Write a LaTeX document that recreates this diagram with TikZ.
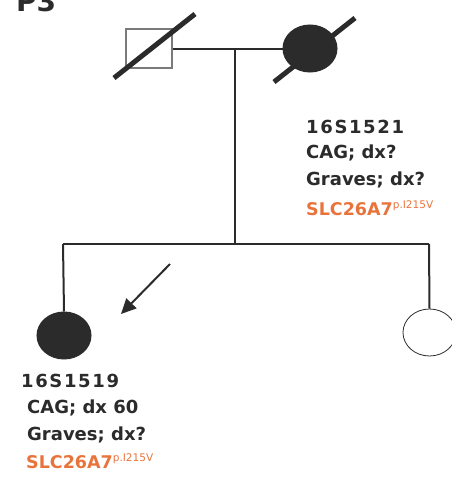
\documentclass[tikz,border=0pt]{standalone}
\usepackage{fontspec}
\setmainfont{DejaVu Sans}
\usetikzlibrary{shapes.geometric,arrows.meta}
\definecolor{ink}{HTML}{2B2B2B}
\definecolor{boxgray}{HTML}{7A7A7A}
\definecolor{gene}{HTML}{E8743B}
\tikzset{
  line/.style={draw=ink, line width=2pt},
  slash/.style={draw=ink, line width=5pt},
  malebox/.style={rectangle, draw=boxgray, line width=1.4pt, minimum width=46pt, minimum height=39pt, inner sep=0pt},
  affected/.style={ellipse, fill=ink, draw=ink, line width=1pt, minimum width=54pt, minimum height=47pt, inner sep=0pt},
  unaffected/.style={ellipse, draw=ink, line width=0.8pt, fill=white, minimum width=53pt, minimum height=47pt, inner sep=0pt},
  info/.style={anchor=base west, inner sep=0pt, text=ink, font=\fontsize{18}{20}\selectfont\bfseries},
  idtext/.style={info, font=\fontsize{18}{20}\selectfont\bfseries\addfontfeature{LetterSpace=9}},
  genetext/.style={anchor=base west, inner sep=0pt, text=gene, font=\fontsize{17.5}{20}\selectfont\bfseries},
}
\begin{document}
\begin{tikzpicture}[x=1pt,y=-1pt]
\useasboundingbox (0,0) rectangle (452,479);
% title (cut off at top, as in the reference)
\node[anchor=base west, inner sep=0pt, text=ink, font=\fontsize{28}{30}\selectfont\bfseries] (title) at (16,11) {P3};
% parents
\node[malebox] (father) at (149,48.5) {};
\node[affected] (mother) at (310,48.5) {};
\coordinate (mj) at (235,48.5);
\coordinate (sj) at (235,244);
\draw[line] (father.east) -- (mother.west);
\draw[line] (mj) -- (sj);
\draw[slash] (114,78) -- (195,14);
\draw[slash] (274,82) -- (355,18);
% sibship
\coordinate (sl) at (63,244);
\coordinate (sr) at (429,244);
\draw[line] (sl) -- (sr);
\node[affected] (child1) at (64,335.5) {};
\node[unaffected] (child2) at (429.5,332.5) {};
\draw[line] (sl) -- (child1.north);
\draw[line] (sr) -- (child2.north);
% proband arrow
\coordinate (arrs) at (170,264);
\coordinate (arre) at (121,314);
\draw[draw=ink, line width=2pt, -{Triangle[length=15pt,width=14pt]}] (arrs) -- (arre);
% mother's text
\node[idtext] (m1) at (306,133) {16S1521};
\node[info] (m2) at (306,158) {CAG; dx?};
\node[info] (m3) at (306,185) {Graves; dx?};
\node[genetext] (m4) at (306,215) {SLC26A7\raisebox{7pt}{\fontsize{10.5}{11}\selectfont\mdseries p.I215V}};
% proband text
\node[idtext] (p1) at (21,387) {16S1519};
\node[info] (p2) at (27,413) {CAG; dx 60};
\node[info] (p3) at (27,440) {Graves; dx?};
\node[genetext] (p4) at (26,468) {SLC26A7\raisebox{7pt}{\fontsize{10.5}{11}\selectfont\mdseries p.I215V}};
\end{tikzpicture}
\end{document}
